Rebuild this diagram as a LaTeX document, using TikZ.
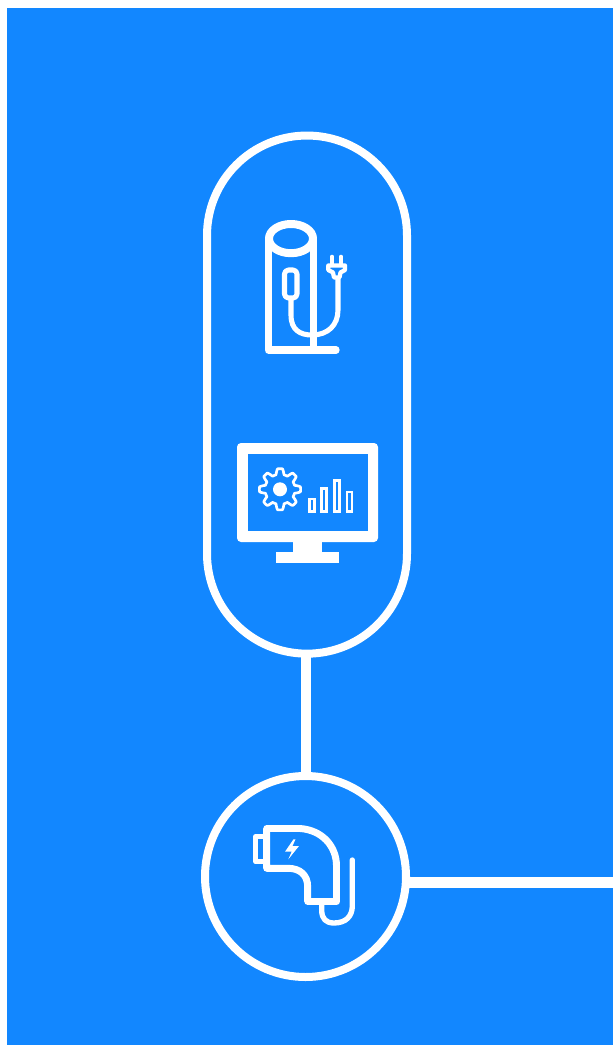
\documentclass[tikz,border=0pt]{standalone}
\definecolor{bluebg}{HTML}{1287FF}
\tikzset{
  px/.style={x=0.75pt,y=-0.75pt},
  frame/.style={draw=white,line width=6pt,fill=none,inner sep=0pt,outer sep=0pt},
  link/.style={draw=white},
  ico/.style={draw=white,line join=round,line cap=round},
}
\begin{document}
\begin{tikzpicture}[px]
\useasboundingbox (0,0) rectangle (613,1045);
\fill[white] (0,0) rectangle (613,1045);
\fill[bluebg] (7,8) rectangle (613,1045);
% frames
\node[frame,rectangle,rounded corners=75pt,minimum width=150pt,minimum height=388.6pt] (pill) at (307,394.6) {};
\node[frame,circle,minimum size=150.75pt] (hub) at (305.5,876.5) {};
\coordinate (exit) at (613,882.5);
\draw[link,line width=7.5pt] (hub.north) -- (hub.north |- pill.south);
\draw[link,line width=8.3pt] (exit) -- (exit -| hub.east);
% charging post
\draw[ico,line width=6pt] (291,238.6) ellipse [x radius=22,y radius=14.6];
\draw[ico,line width=5.5pt] (268.5,238.5) -- (268.5,350) -- (336,350);
\draw[ico,line width=5.5pt] (313.5,238.5) -- (313.5,350);
\draw[ico,line width=3.8pt,rounded corners=3pt] (284.5,270) rectangle (297,298);
\draw[ico,line width=3.8pt] (291,299) -- (291,315) .. controls (291,330) and (300,335) .. (312,335)
  .. controls (328,335) and (338,325) .. (338,310) -- (338,279);
\draw[ico,line width=3.5pt] (332,257) -- (332,264) (341,257) -- (341,264);
\draw[ico,line width=3.2pt] (328.3,265.5) -- (345,265.5) -- (345,270) -- (340.5,272.5) -- (339.5,277.5) -- (334,277.5) -- (333,272.5) -- (328.3,270) -- cycle;
% monitor
\fill[white,rounded corners=3pt] (237,443) rectangle (378,542);
\fill[bluebg] (248,454) rectangle (368,531);
\fill[white] (293,541) rectangle (322,553);
\fill[white] (276,552) rectangle (339,563);
% gear
\fill[white] (280,489.3) circle (7);
\draw[ico,line width=2pt] plot[samples=241,domain=0:360,variable=\t]
  ({280+(17.8+2.8*max(-1,min(1,1.8*cos(8*\t))))*cos(\t)},
   {489.3+(17.8+2.8*max(-1,min(1,1.8*cos(8*\t))))*sin(\t)}) -- cycle;
% bars
\draw[white,line width=2pt] (309.6,499) rectangle (314.4,511.4)
  (321.3,488.6) rectangle (326.4,511.4) (334.6,480.3) rectangle (339.4,511.4) (347,492) rectangle (352,511.4);
% charger
\draw[ico,line width=5.2pt] (266.7,828.5) -- (300,828.5) .. controls (322,830) and (336.5,846) .. (336.5,866)
  -- (336.5,901.5) -- (307.7,901.5) -- (307.7,887) .. controls (307.7,875) and (300,868.3) .. (288,868.3)
  -- (266.7,868.3) -- cycle;
\draw[ico,line width=3.8pt] (266.7,836.7) -- (255.7,836.7) -- (255.7,861.7) -- (266.7,861.7);
\draw[ico,line width=4pt] (321.7,903) -- (321.7,910) .. controls (321.7,919) and (326,923) .. (334,923)
  .. controls (346,923) and (352.3,916) .. (352.3,906) -- (352.3,860);
\fill[white] (293.5,839.3) -- (285,851.7) -- (291.7,851.7) -- (288.3,859.3) -- (299,846) -- (292.5,846) -- (295.5,839.3) -- cycle;
\end{tikzpicture}
\end{document}
